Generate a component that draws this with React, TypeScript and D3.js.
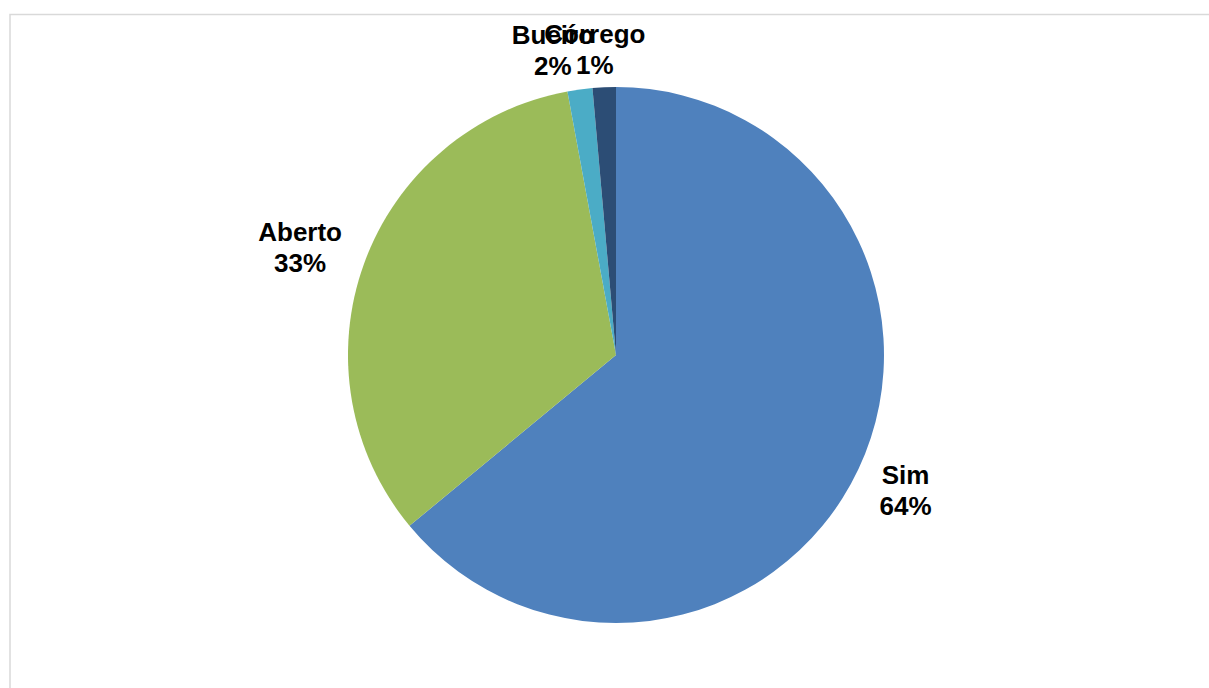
import React from "react";
import * as d3 from "d3";

const categories = ["Sim", "Aberto", "Bueiro", "Córrego"];
const values = [64.0, 33.1, 1.5, 1.4];
const colors = ["#4F81BD", "#9BBB59", "#4BACC6", "#2C4D75"];
// label nudges (layout only) to mimic Excel's crowded top labels
const labelNudgeX = [0, 0, -18, -6];

const W = 1209;
const H = 688;
const cx = 616;
const cy = 355;
const R = 268;
const FONT = 26;

export default function App() {
  const data = categories.map((c, i) => ({ name: c, value: values[i], color: colors[i], nudge: labelNudgeX[i] }));
  const total = d3.sum(values);
  const pie = d3.pie<any>().sort(null).value((d: any) => d.value).startAngle(0).endAngle(2 * Math.PI);
  const arcs = pie(data);
  const arcGen = d3.arc<any>().innerRadius(0).outerRadius(R);

  const measure = (s: string) => {
    const m: Record<string, number> = { "%": 889 };
    let w = 0;
    for (const ch of s) {
      if (m[ch]) w += m[ch];
      else if ("0123456789".includes(ch)) w += 556;
      else if ("il".includes(ch)) w += 278;
      else if ("rt".includes(ch)) w += 370;
      else if ("m".includes(ch)) w += 889;
      else if ("ABCDS".includes(ch)) w += 700;
      else w += 600;
    }
    return (w / 1000) * FONT;
  };

  return (
    <svg width={W} height={H} style={{ position: "absolute", left: 0, top: 0, background: "#fff" }}
      fontFamily="'Liberation Sans', Arial, sans-serif">
      <rect x={10} y={14.5} width={W + 20} height={H + 20} fill="#fff" stroke="#d9d9d9" strokeWidth={1.5} />
      <g transform={`translate(${cx},${cy})`}>
        {arcs.map((a, i) => (
          <path key={i} d={arcGen(a) as string} fill={a.data.color} stroke="none" />
        ))}
      </g>
      {arcs.map((a, i) => {
        const mid = (a.startAngle + a.endAngle) / 2;
        const dx = Math.sin(mid);
        const dy = -Math.cos(mid);
        const pct = Math.round((a.data.value / total) * 100) + "%";
        const w = Math.max(measure(a.data.name), measure(pct));
        const g = 16;
        const lx = cx + dx * (R + g) + dx * (w / 2 + 10) + a.data.nudge;
        const ly = cy + dy * (R + g) + dy * 22 + dy * 12 * Math.abs(dx);
        return (
          <text key={i} textAnchor="middle" fontSize={FONT} fontWeight="bold" fill="#000">
            <tspan x={lx} y={ly - 6}>{a.data.name}</tspan>
            <tspan x={lx} y={ly + 25}>{pct}</tspan>
          </text>
        );
      })}
    </svg>
  );
}
